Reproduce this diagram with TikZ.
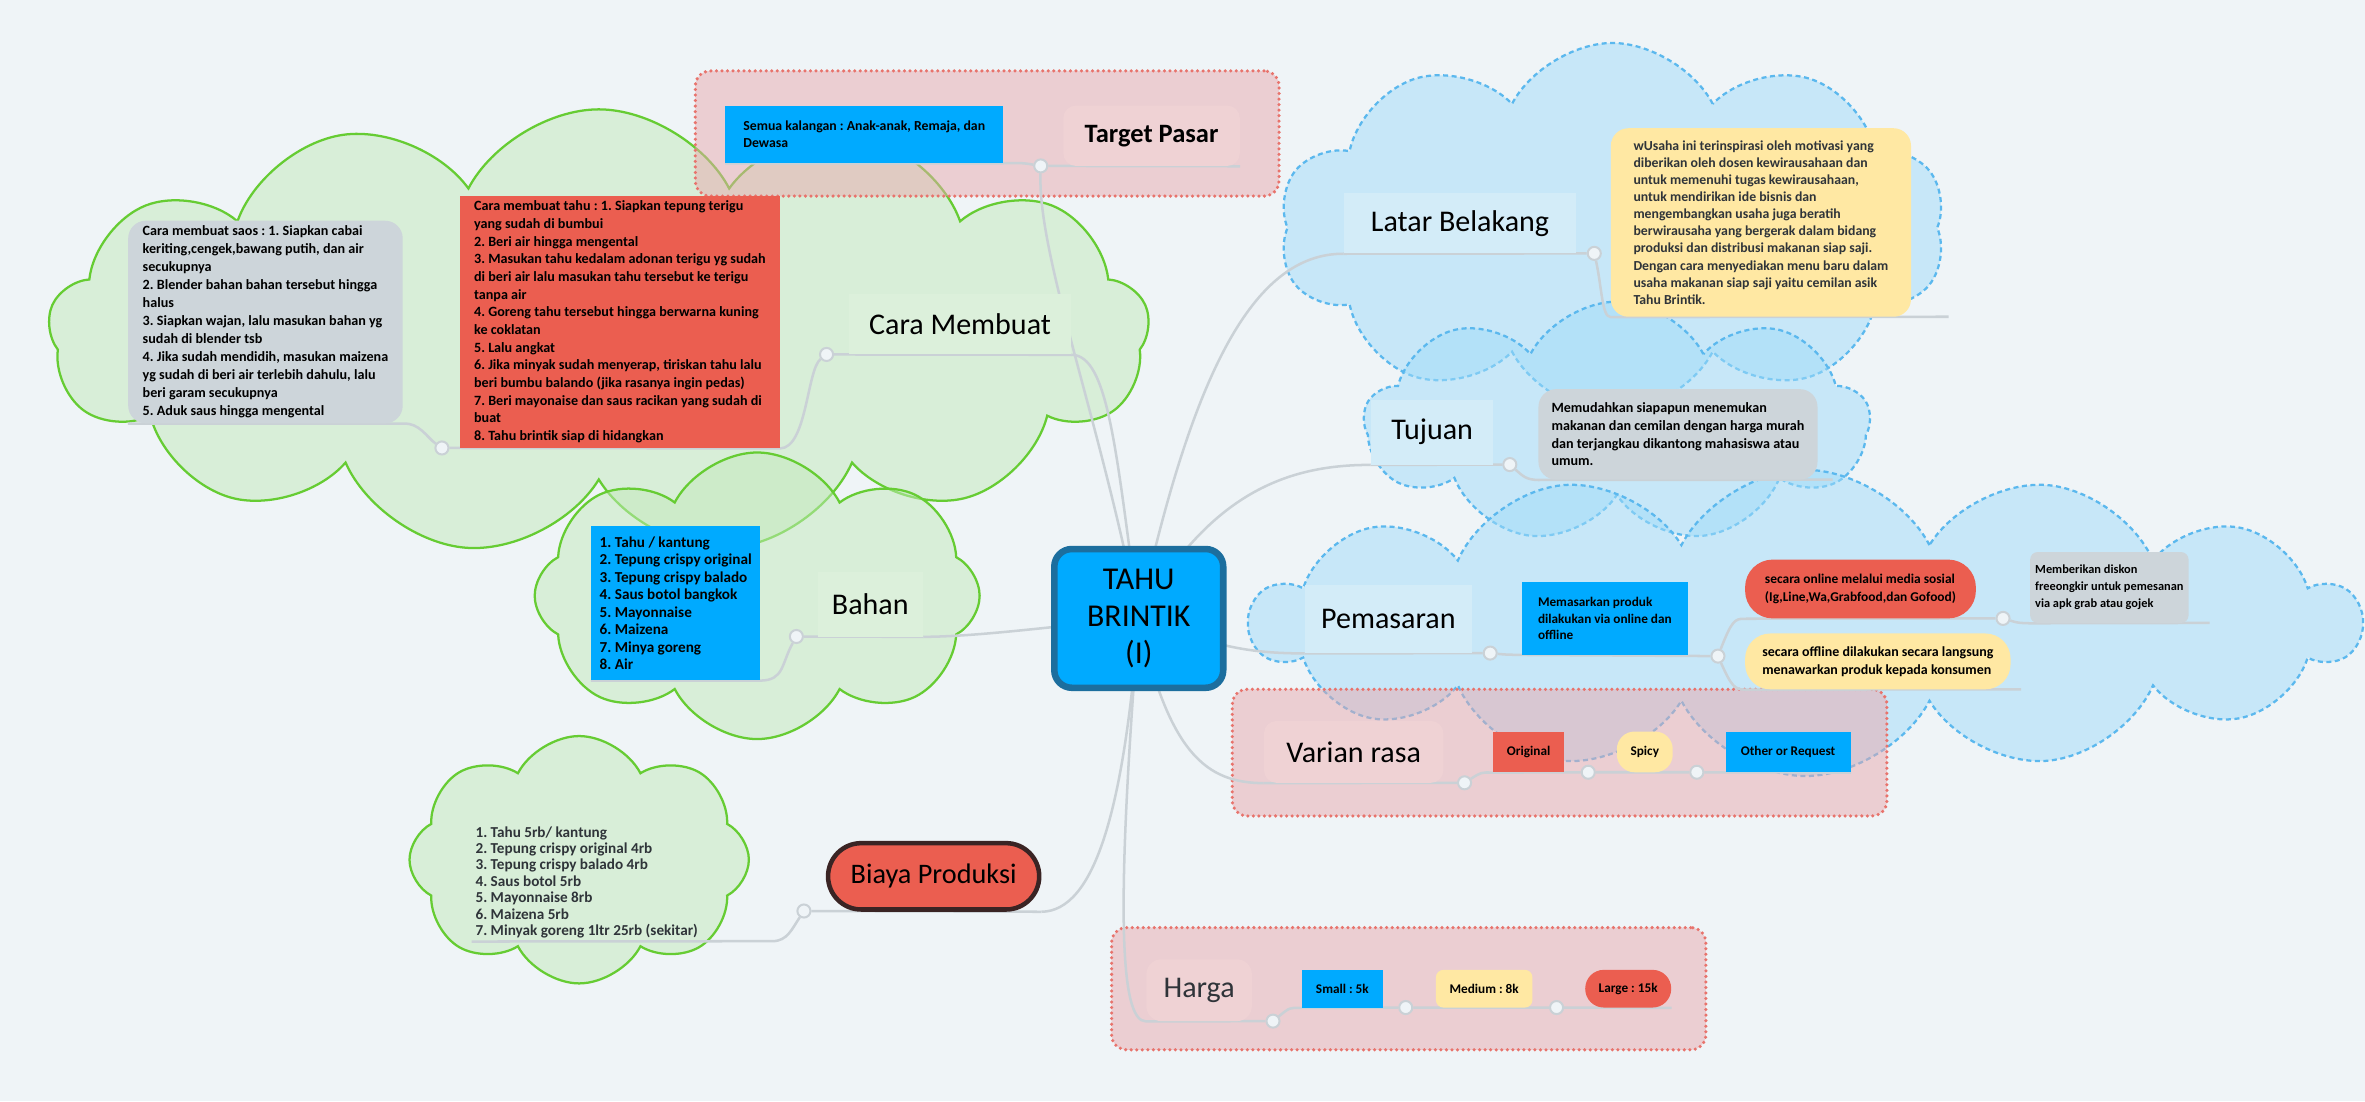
\documentclass[tikz,border=0pt]{standalone}
\usepackage{fontspec}
\setmainfont{Carlito}
\usetikzlibrary{shapes.symbols, positioning}

\definecolor{bgcol}{HTML}{EFF4F7}
\definecolor{mapblue}{HTML}{00AAFF}
\definecolor{mapred}{HTML}{EB5E50}
\definecolor{mapyellow}{HTML}{FFE8A3}
\definecolor{mapgray}{HTML}{CDD5DA}
\definecolor{linegray}{HTML}{CAD1D6}
\definecolor{coreborder}{HTML}{1C6E9E}
\definecolor{greenline}{HTML}{66CC33}
\definecolor{greenfill}{HTML}{C3EABB}
\definecolor{blueline}{HTML}{5BB8EE}
\definecolor{bluefill}{HTML}{A1DCF9}
\definecolor{frameline}{HTML}{E8736C}
\definecolor{framefill}{HTML}{E9A9AE}
\definecolor{pinkbox}{HTML}{EFD2D4}
\definecolor{greenbox}{HTML}{DCF0DB}
\definecolor{bluebox}{HTML}{D3ECF8}
\definecolor{textdark}{HTML}{2F3439}
\definecolor{pillborder}{HTML}{3A2424}

\pgfdeclarelayer{bg}
\pgfdeclarelayer{clouds}
\pgfdeclarelayer{links}
\pgfsetlayers{bg,clouds,links,main}

\begin{document}
\frenchspacing
\begin{tikzpicture}[
  x=0.03cm, y=-0.03cm,
  sz/.style 2 args={minimum width=#1*0.03cm, minimum height=#2*0.03cm},
  gcloud/.style={cloud, cloud puffs=#1, cloud puff arc=125, cloud ignores aspect, draw=greenline, line width=0.045cm, fill=greenfill, fill opacity=0.5, inner sep=0},
  bcloud/.style={cloud, cloud puffs=#1, cloud puff arc=125, cloud ignores aspect, draw=blueline, line width=0.045cm, dash pattern=on 0.1cm off 0.07cm, fill=bluefill, fill opacity=0.5, inner sep=0},
  groupframe/.style={rectangle, rounded corners=0.3cm, draw=frameline, line width=0.07cm, dash pattern=on 0pt off 0.11cm, line cap=round, fill=framefill, fill opacity=0.5, inner sep=0},
  topic/.style={rectangle, inner sep=0, font=\fontsize{17}{19}\selectfont, text=black},
  mapnote/.style={rectangle, inner sep=0.1cm, align=left, font=\bfseries\fontsize{8}{10}\selectfont},
  maptag/.style={rectangle, inner sep=0, font=\bfseries\fontsize{7.5}{9}\selectfont},
  link/.style={draw=linegray, line width=0.05cm},
  mapdot/.style={circle, draw=linegray, fill=bgcol, line width=0.04cm, minimum size=0.26cm, inner sep=0}
]

\begin{pgfonlayer}{bg}
\fill[bgcol] (0,0) rectangle (1568,730);
\end{pgfonlayer}
\useasboundingbox (0,0) rectangle (1568,730);

% clouds and frames
\begin{pgfonlayer}{clouds}
\node[gcloud=13, sz={730}{295}] (cmcloud) at (397,220) {};
\node[gcloud=8, sz={295}{190}] (bhcloud) at (502,395) {};
\node[gcloud=8, sz={225}{164}] (bpcloud) at (384,570) {};
\node[bcloud=10, sz={442}{245}] (lbcloud) at (1069,151) {};
\node[bcloud=9, sz={335}{160}] (tjcloud) at (1072,280) {};
\node[bcloud=14, sz={735}{203}] (pmcloud) at (1197,413) {};
\node[groupframe, sz={387}{83}] (tpframe) at (654.5,88.5) {};
\node[groupframe, sz={434}{84}] (vrframe) at (1034,499) {};
\node[groupframe, sz={394}{81}] (hgframe) at (934,655.5) {};
\end{pgfonlayer}

% centre
\node[draw=coreborder, line width=0.13cm, fill=mapblue, rounded corners=0.35cm, sz={112}{92}, align=center, font=\fontsize{18}{21}\selectfont, inner sep=0] (core) at (755,410) {TAHU\\BRINTIK\\(I)};

% Target Pasar
\node[topic, fill=pinkbox, rounded corners=0.25cm, sz={117}{40}, font=\bfseries\fontsize{15}{17}\selectfont] (tpbox) at (763.5,90) {Target Pasar};
\node[mapnote, fill=mapblue, sz={184}{38}, font=\bfseries\fontsize{7.8}{9.4}\selectfont] (tpsub) at (573,89) {Semua kalangan : Anak-anak, Remaja, dan\\Dewasa\hspace*{3.3cm}};

% Cara Membuat
\node[topic, fill=greenbox, sz={147}{40}] (cmbox) at (636.5,215) {Cara Membuat};
\node[mapnote, fill=mapred, sz={212}{167}, font=\bfseries\fontsize{8}{10}\selectfont] (cmtahu) at (411,213.5) {Cara membuat tahu : 1. Siapkan tepung terigu\\yang sudah di bumbui\\2. Beri air hingga mengental\\3. Masukan tahu kedalam adonan terigu yg sudah\\di beri air lalu masukan tahu tersebut ke terigu\\tanpa air\\4. Goreng tahu tersebut hingga berwarna kuning\\ke coklatan\\5. Lalu angkat\\6. Jika minyak sudah menyerap, tiriskan tahu lalu\\beri bumbu balando (jika rasanya ingin pedas)\\7. Beri mayonaise dan saus racikan yang sudah di\\buat\\8. Tahu brintik siap di hidangkan};
\node[mapnote, fill=mapgray, rounded corners=0.35cm, sz={182}{133}, font=\bfseries\fontsize{8}{10.2}\selectfont] (cmsaos) at (176,213.5) {Cara membuat saos : 1. Siapkan cabai\\keriting,cengek,bawang putih, dan air\\secukupnya\\2. Blender bahan bahan tersebut hingga\\halus\\3. Siapkan wajan, lalu masukan bahan yg\\sudah di blender tsb\\4. Jika sudah mendidih, masukan maizena\\yg sudah di beri air terlebih dahulu, lalu\\beri garam secukupnya\\5. Aduk saus hingga mengental};

% Bahan
\node[topic, fill=greenbox, sz={70}{43}] (bhbox) at (577,400.5) {Bahan};
\node[mapnote, fill=mapblue, sz={112}{102}, font=\bfseries\fontsize{8.6}{9.9}\selectfont] (bhsub) at (448,400) {1. Tahu / kantung\\2. Tepung crispy original\\3. Tepung crispy balado\\4. Saus botol bangkok\\5. Mayonnaise\\6. Maizena\\7. Minya goreng\\8. Air};

% Biaya Produksi
\node[topic, fill=mapred, draw=pillborder, line width=0.09cm, rounded corners=0.66cm, sz={140}{44}, font=\fontsize{16}{18}\selectfont] (bpbox) at (619,581) {Biaya Produksi};
\node[mapnote, inner sep=0, sz={152}{78}, text=textdark, font=\bfseries\fontsize{8.6}{9.3}\selectfont] (bpsub) at (389,585) {1. Tahu 5rb/ kantung\\2. Tepung crispy original 4rb\\3. Tepung crispy balado 4rb\\4. Saus botol 5rb\\5. Mayonnaise 8rb\\6. Maizena 5rb\\7. Minyak goreng 1ltr 25rb (sekitar)};

% Latar Belakang
\node[topic, fill=bluebox, sz={154}{40}] (lbbox) at (968,148) {Latar Belakang};
\node[mapnote, fill=mapyellow, rounded corners=0.35cm, sz={199}{125}, text=textdark, font=\bfseries\fontsize{7.8}{9.7}\selectfont] (lbsub) at (1167.5,147.5) {wUsaha ini terinspirasi oleh motivasi yang\\diberikan oleh dosen kewirausahaan dan\\untuk memenuhi tugas kewirausahaan,\\untuk mendirikan ide bisnis dan\\mengembangkan usaha juga beratih\\berwirausaha yang bergerak dalam bidang\\produksi dan distribusi makanan siap saji.\\Dengan cara menyediakan menu baru dalam\\usaha makanan siap saji yaitu cemilan asik\\Tahu Brintik.};

% Tujuan
\node[topic, fill=bluebox, sz={81}{43}] (tjbox) at (949.5,286.5) {Tujuan};
\node[mapnote, fill=mapgray, rounded corners=0.35cm, sz={185}{60}, font=\bfseries\fontsize{8}{10}\selectfont] (tjsub) at (1112.5,288) {Memudahkan siapapun menemukan\\makanan dan cemilan dengan harga murah\\dan terjangkau dikantong mahasiswa atau\\umum.};

% Pemasaran
\node[topic, fill=bluebox, sz={111}{45}] (pmbox) at (920.5,410.5) {Pemasaran};
\node[mapnote, fill=mapblue, sz={110}{48}, font=\bfseries\fontsize{7.5}{9.5}\selectfont] (pmsub) at (1064,410) {Memasarkan produk\\dilakukan via online dan\\offline};
\node[mapnote, fill=mapred, rounded corners=0.55cm, sz={153}{39}, font=\bfseries\fontsize{7.6}{10}\selectfont] (pmonline) at (1233.5,390.5) {secara online melalui media sosial\\(Ig,Line,Wa,Grabfood,dan Gofood)};
\node[mapnote, fill=mapgray, rounded corners=0.15cm, sz={99}{47}, font=\bfseries\fontsize{7}{9.5}\selectfont] (pmdiskon) at (1398.5,389.5) {Memberikan diskon\\freeongkir untuk pemesanan\\via apk grab atau gojek};
\node[mapnote, fill=mapyellow, rounded corners=0.5cm, sz={176}{37}, font=\bfseries\fontsize{7.9}{10}\selectfont] (pmoffline) at (1245,438.5) {secara offline dilakukan secara langsung\\menawarkan produk kepada konsumen};

% Varian rasa
\node[topic, fill=pinkbox, rounded corners=0.25cm, sz={119}{41}] (vrbox) at (897.5,498.5) {Varian rasa};
\node[maptag, fill=mapred, sz={47}{27}] (vrorig) at (1013.5,498.5) {Original};
\node[maptag, fill=mapyellow, rounded corners=0.35cm, sz={37}{27}] (vrspicy) at (1090.5,498.5) {Spicy};
\node[maptag, fill=mapblue, sz={83}{27}] (vrother) at (1185.5,498.5) {Other or Request};

% Harga
\node[topic, fill=pinkbox, rounded corners=0.3cm, sz={70}{41}, text=textdark] (hgbox) at (795,656.5) {Harga};
\node[maptag, fill=mapblue, sz={54}{25}] (hgsmall) at (890,655.5) {Small : 5k};
\node[maptag, fill=mapyellow, rounded corners=0.15cm, sz={64}{25}] (hgmed) at (984,655.5) {Medium : 8k};
\node[maptag, fill=mapred, rounded corners=0.37cm, sz={57}{25}] (hglarge) at (1079.5,655.5) {Large : 15k};

% dots
\node[mapdot] (tpdot) at (690,110) {};
\node[mapdot] (cmdot) at (548,235) {};
\node[mapdot] (cmdot2) at (293,297) {};
\node[mapdot] (bhdot) at (528,422) {};
\node[mapdot] (bpdot) at (533,604) {};
\node[mapdot] (lbdot) at (1057,168) {};
\node[mapdot] (tjdot) at (1001,308) {};
\node[mapdot] (pmdot) at (988,433) {};
\node[mapdot] (pmdot2) at (1139,435) {};
\node[mapdot] (pmdot3) at (1328,410) {};
\node[mapdot] (vrdot) at (971,519) {};
\node[mapdot] (vrdot2) at (1053,512) {};
\node[mapdot] (vrdot3) at (1125,512) {};
\node[mapdot] (hgdot) at (844,677) {};
\node[mapdot] (hgdot2) at (932,668) {};
\node[mapdot] (hgdot3) at (1032,668) {};

\coordinate (bpturn) at (512,624);
\coordinate (lbend) at (1292,210);
\coordinate (tjend) at (1215,318);
\coordinate (pmend1) at (1465,413);
\coordinate (pmend2) at (1340,457);

% branches from the centre
\begin{pgfonlayer}{links}
\draw[link] (core.center) .. controls (790,250) and (830,168) .. (lbbox.south west);
\draw[link] (core.center) .. controls (800,330) and (850,308) .. (tjbox.south west);
\draw[link] (core.center) .. controls (810,430) and (830,433) .. (pmbox.south west);
\draw[link] (core.center) .. controls (775,500) and (800,519) .. (vrbox.south west);
\draw[link] (core.center) .. controls (740,600) and (742,677) .. (hgbox.south west);
\draw[link] (core.center) .. controls (730,280) and (688,170) .. (tpdot);
\draw[link] (core.center) .. controls (740,300) and (735,235) .. (cmbox.south east);
\draw[link] (core.center) .. controls (700,415) and (650,422) .. (bhbox.south east);
\draw[link] (core.center) .. controls (745,540) and (725,604) .. (bpbox.south east);

% sub branches
\draw[link] (tpbox.south east) -- (tpdot) .. controls (678,108) .. (tpsub.south east) -- (tpsub.south west);
\draw[link] (cmbox.south east) -- (cmdot) .. controls (535,245) and (535,297) .. (cmtahu.south east) -- (cmdot2) .. controls (283,290) and (278,280) .. (cmsaos.south east) -- (cmsaos.south west);
\draw[link] (bhbox.south east) -- (bhdot) .. controls (518,440) and (520,451) .. (bhsub.south east) -- (bhsub.south west);
\draw[link] (bpbox.south east) -- (bpdot) .. controls (525,616) and (522,624) .. (bpturn) -- (bpsub.south west);
\draw[link] (lbbox.south west) -- (lbdot) .. controls (1062,190) and (1062,210) .. (lbsub.south west) -- (lbend);
\draw[link] (tjbox.south west) -- (tjdot) .. controls (1010,316) and (1012,318) .. (tjsub.south west) -- (tjend);
\draw[link] (pmbox.south west) -- (pmdot) .. controls (998,434) .. (pmsub.south west) -- (pmdot2);
\draw[link] (pmdot2) .. controls (1148,412) and (1150,410) .. (pmonline.south west) -- (pmdot3) .. controls (1338,413) .. (pmdiskon.south west) -- (pmend1);
\draw[link] (pmdot2) .. controls (1148,455) and (1150,457) .. (pmoffline.south west) -- (pmend2);
\draw[link] (vrbox.south west) -- (vrdot) .. controls (982,512) .. (vrorig.south west) -- (vrdot2) -- (vrdot3) -- (vrother.south east);
\draw[link] (hgbox.south west) -- (hgdot) .. controls (855,668) .. (hgsmall.south west) -- (hgdot2) -- (hgdot3) -- (hglarge.south east);
\end{pgfonlayer}

\end{tikzpicture}
\end{document}
